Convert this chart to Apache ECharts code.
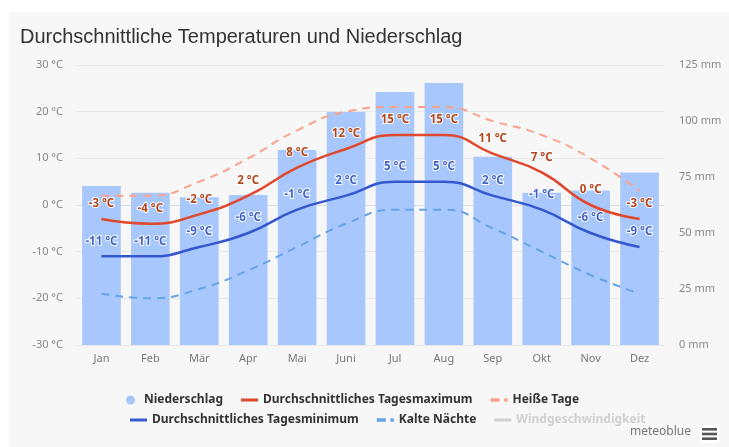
<!DOCTYPE html>
<html>
<head>
<meta charset="utf-8">
<script src="https://cdn.jsdelivr.net/npm/echarts@6/dist/echarts.min.js"></script>
<style>
  html, body { margin: 0; padding: 0; background: #fff; }
  #chart { width: 729px; height: 447px; }
</style>
</head>
<body>
<div id="chart"></div>
<script>
// Monate
const months = ['Jan', 'Feb', 'Mär', 'Apr', 'Mai', 'Juni', 'Jul', 'Aug', 'Sep', 'Okt', 'Nov', 'Dez']
// Niederschlag (mm)
const precipitation = [71, 68, 66, 67, 87, 104, 113, 117, 84, 68, 69, 77]
// Temperaturen (°C)
const tempMax = [-3, -4, -2, 2, 8, 12, 15, 15, 11, 7, 0, -3]
const tempMin = [-11, -11, -9, -6, -1, 2, 5, 5, 2, -1, -6, -9]
const hotDays = [2, 2, 5, 10, 16, 20, 21, 21, 18, 15, 10, 3]
const coldNights = [-19, -20, -18, -14, -9, -4, -1, -1, -5, -10, -15, -19]
const windSpeed = []

const font = '"Noto Sans", sans-serif'

// Legenden-Symbole: durchgezogene und gestrichelte Linie
const solidIcon = 'path://M0,0H17V3H0Z'
const dashIcon = 'path://M0,0H8V3H0Z M12,0H15V3H12Z'

const chart = echarts.init(document.getElementById('chart'))

const tempLabel = (color) => ({
  show: true,
  position: 'top',
  distance: 9,
  formatter: '{c} °C',
  fontFamily: font,
  fontSize: 11.5,
  fontWeight: 'bold',
  color: color,
  textBorderColor: '#fff',
  textBorderWidth: 2
})

const legendText = { fontFamily: font, fontSize: 12, fontWeight: 'bold', color: '#333' }

const option = {
  backgroundColor: '#fff',
  animation: false,
  title: {
    text: 'Durchschnittliche Temperaturen und Niederschlag',
    left: 20,
    top: 27,
    padding: 0,
    textStyle: {
      fontFamily: '"Liberation Sans", Arial, sans-serif',
      fontSize: 20,
      fontWeight: 'normal',
      color: '#333'
    }
  },
  graphic: [
    {
      type: 'rect',
      z: -10,
      silent: true,
      shape: { x: 9, y: 12, width: 720, height: 435 },
      style: { fill: '#f7f7f7' }
    },
    {
      type: 'text',
      right: 38,
      top: 426,
      style: {
        text: 'meteoblue',
        fontFamily: font,
        fontSize: 12,
        fill: '#777'
      }
    },
    {
      type: 'group',
      left: 700,
      top: 425,
      children: [
        { type: 'rect', shape: { x: 0, y: 0, width: 19, height: 18 }, style: { fill: '#fff' } },
        { type: 'rect', shape: { x: 2, y: 3, width: 15, height: 2.6 }, style: { fill: '#555' } },
        { type: 'rect', shape: { x: 2, y: 7.7, width: 15, height: 2.6 }, style: { fill: '#555' } },
        { type: 'rect', shape: { x: 2, y: 12.4, width: 15, height: 2.6 }, style: { fill: '#555' } }
      ]
    }
  ],
  legend: [
    {
      data: [
        { name: 'Niederschlag', icon: 'circle' },
        { name: 'Durchschnittliches Tagesmaximum', icon: solidIcon },
        { name: 'Heiße Tage', icon: dashIcon }
      ],
      left: 121,
      top: 389,
      itemWidth: 17,
      itemHeight: 9,
      itemGap: 18,
      textStyle: legendText
    },
    {
      data: [
        { name: 'Durchschnittliches Tagesminimum', icon: solidIcon },
        { name: 'Kalte Nächte', icon: dashIcon },
        { name: 'Windgeschwindigkeit', icon: solidIcon }
      ],
      left: 125,
      top: 409,
      itemWidth: 17,
      itemHeight: 9,
      itemGap: 18,
      inactiveColor: '#d0d0d0',
      selected: { 'Windgeschwindigkeit': false },
      textStyle: legendText
    }
  ],
  grid: {
    left: 77,
    right: 65,
    top: 65,
    bottom: 102
  },
  xAxis: {
    type: 'category',
    data: months,
    axisLine: { lineStyle: { color: '#d8dde6' } },
    axisTick: { alignWithLabel: true, length: 5, lineStyle: { color: '#d8dde6' } },
    axisLabel: { fontFamily: font, fontSize: 11, color: '#777', margin: 8 }
  },
  yAxis: [
    {
      type: 'value',
      min: -30,
      max: 30,
      interval: 10,
      axisLine: { show: false },
      axisTick: { show: false },
      axisLabel: { formatter: '{value} °C', fontFamily: font, fontSize: 11, color: '#888', margin: 14 },
      splitLine: { lineStyle: { color: '#e8e8e8' } }
    },
    {
      type: 'value',
      min: 0,
      max: 125,
      interval: 25,
      axisLine: { show: false },
      axisTick: { show: false },
      axisLabel: { formatter: '{value} mm', fontFamily: font, fontSize: 11, color: '#888', margin: 15 },
      splitLine: { show: false }
    }
  ],
  series: [
    {
      name: 'Niederschlag',
      type: 'bar',
      yAxisIndex: 1,
      data: precipitation,
      barCategoryGap: '21%',
      itemStyle: { color: '#a8c7fc' },
      z: 1
    },
    {
      name: 'Heiße Tage',
      type: 'line',
      data: hotDays,
      smooth: true,
      symbol: 'none',
      lineStyle: { color: '#f9a38c', width: 2, type: [8, 6] },
      itemStyle: { color: '#f9a38c' },
      z: 2
    },
    {
      name: 'Kalte Nächte',
      type: 'line',
      data: coldNights,
      smooth: true,
      symbol: 'none',
      lineStyle: { color: '#68a4e6', width: 2, type: [8, 6] },
      itemStyle: { color: '#68a4e6' },
      z: 2
    },
    {
      name: 'Durchschnittliches Tagesmaximum',
      type: 'line',
      data: tempMax,
      smooth: true,
      symbol: 'circle',
      symbolSize: 0,
      lineStyle: { color: '#e0472b', width: 2.5 },
      itemStyle: { color: '#e0472b' },
      label: tempLabel('#b2471d'),
      z: 3
    },
    {
      name: 'Durchschnittliches Tagesminimum',
      type: 'line',
      data: tempMin,
      smooth: true,
      symbol: 'circle',
      symbolSize: 0,
      lineStyle: { color: '#3558cf', width: 2.5 },
      itemStyle: { color: '#3558cf' },
      label: tempLabel('#4263c9'),
      z: 3
    },
    {
      name: 'Windgeschwindigkeit',
      type: 'line',
      data: windSpeed,
      symbol: 'none',
      lineStyle: { color: '#aaa', width: 2 },
      itemStyle: { color: '#aaa' }
    }
  ]
}

chart.setOption(option)
</script>
</body>
</html>
